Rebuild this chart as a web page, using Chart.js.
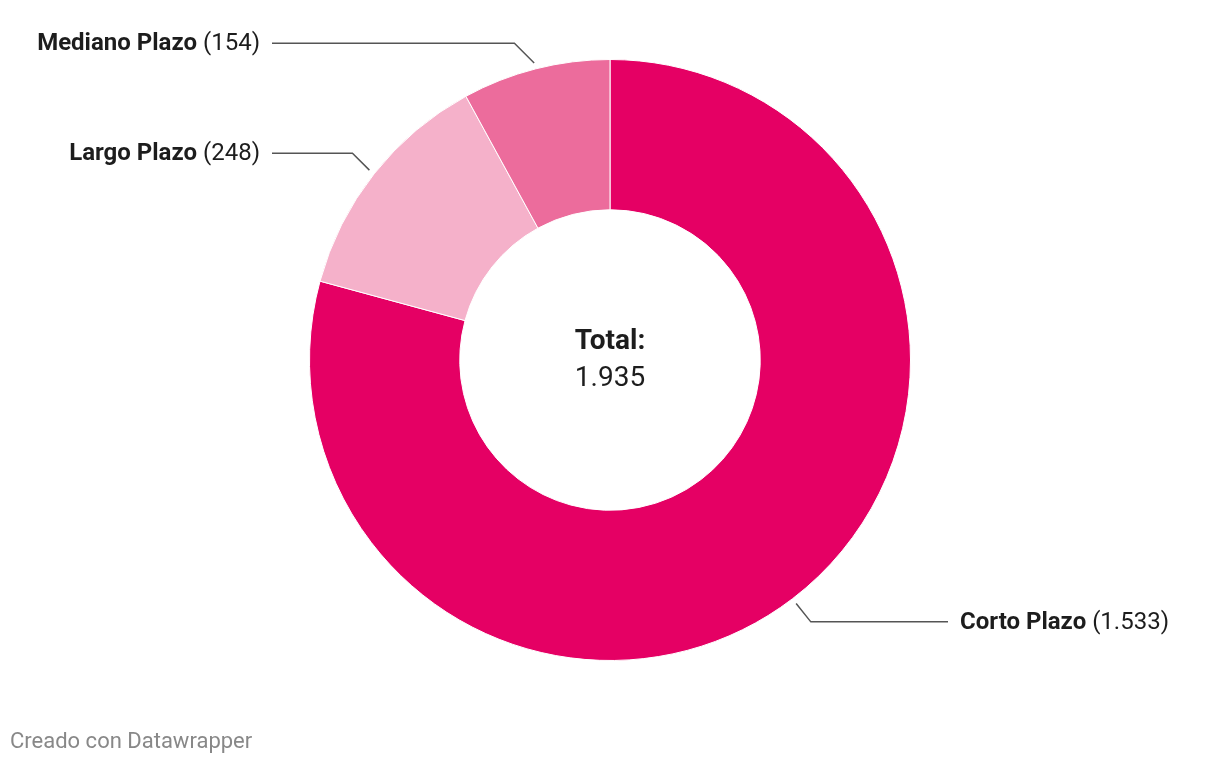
<!DOCTYPE html>
<html>
<head>
<meta charset="utf-8">
<script src="https://cdn.jsdelivr.net/npm/chart.js@4"></script>
<style>
  body { margin: 0; background: #fff; font-family: Roboto, sans-serif; }
  #wrap { position: relative; width: 1220px; height: 766px; }
  #footer { position: absolute; left: 10px; top: 728px; font-size: 22px; color: #888; }
</style>
</head>
<body>
<div id="wrap">
  <canvas id="chart" width="1220" height="766"></canvas>
  <div id="footer">Creado con Datawrapper</div>
</div>
<script>
  const categories = ["Corto Plazo", "Largo Plazo", "Mediano Plazo"];
  const values = [1533, 248, 154];
  const colors = ["#e50064", "#f5b1ca", "#ec6c9c"];
  const totalLabel = "Total:";
  const totalValue = "1.935";

  const fmt = (n) => n.toLocaleString("de-DE");

  const labelPlugin = {
    id: "leaderLabels",
    afterDatasetsDraw(chart) {
      const ctx = chart.ctx;
      const meta = chart.getDatasetMeta(0);
      ctx.save();
      meta.data.forEach((arc, i) => {
        const mid = (arc.startAngle + arc.endAngle) / 2;
        const r = arc.outerRadius + 6;
        const px = arc.x + Math.cos(mid) * r;
        const py = arc.y + Math.sin(mid) * r;
        const right = Math.cos(mid) >= 0;
        // steeper elbow near the top, flatter toward the sides
        const dy = (Math.sin(mid) >= 0 ? 1 : -1) * (12 + 8 * Math.abs(Math.sin(mid)));
        const ly = py + dy;
        const ex = px + (right ? Math.abs(dy) * 0.8 : -Math.abs(dy));
        const endX = arc.x + (right ? 338 : -338);

        ctx.strokeStyle = "#555";
        ctx.lineWidth = 1.5;
        ctx.beginPath();
        ctx.moveTo(px, py);
        ctx.lineTo(ex, ly);
        ctx.lineTo(endX, ly);
        ctx.stroke();

        const bold = categories[i];
        const rest = " (" + fmt(values[i]) + ")";
        ctx.textBaseline = "middle";
        ctx.fillStyle = "#1d1d1d";
        ctx.font = "bold 24px Roboto";
        const bw = ctx.measureText(bold).width;
        ctx.font = "24px Roboto";
        const rw = ctx.measureText(rest).width;
        const x0 = right ? endX + 12 : endX - 12 - bw - rw;
        ctx.font = "bold 24px Roboto";
        ctx.fillText(bold, x0, ly + 1);
        ctx.font = "24px Roboto";
        ctx.fillText(rest, x0 + bw, ly + 1);
      });

      const a = meta.data[0];
      ctx.textAlign = "center";
      ctx.textBaseline = "middle";
      ctx.fillStyle = "#1d1d1d";
      ctx.font = "bold 28px Roboto";
      ctx.fillText(totalLabel, a.x, a.y - 18);
      ctx.font = "28px Roboto";
      ctx.fillText(totalValue, a.x, a.y + 19);
      ctx.restore();
    },
  };

  new Chart(document.getElementById("chart"), {
    type: "doughnut",
    data: {
      labels: categories,
      datasets: [
        {
          data: values,
          backgroundColor: colors,
          borderColor: "#fff",
          borderWidth: 1,
        },
      ],
    },
    options: {
      responsive: false,
      animation: false,
      cutout: "50%",
      layout: { padding: { top: 59, bottom: 105 } },
      plugins: {
        legend: { display: false },
        tooltip: { enabled: false },
      },
    },
    plugins: [labelPlugin],
  });
</script>
</body>
</html>
